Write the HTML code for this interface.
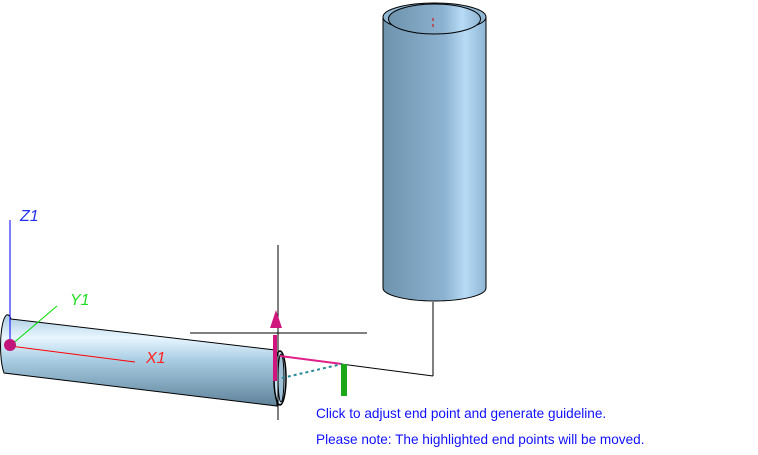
<!DOCTYPE html>
<html><head><style>
body{margin:0;background:#fff;width:758px;height:450px;overflow:hidden}
</style></head><body>
<svg width="758" height="450" xmlns="http://www.w3.org/2000/svg" font-family="Liberation Sans, sans-serif">
<defs>
<linearGradient id="vg" x1="0" x2="1" y1="0" y2="0">
<stop offset="0" stop-color="#6e93ad"/><stop offset="0.6" stop-color="#8db3d2"/>
<stop offset="0.8" stop-color="#b8dcf6"/><stop offset="1" stop-color="#8fb5d4"/>
</linearGradient>
<linearGradient id="hg" x1="0" x2="0" y1="0" y2="1">
<stop offset="0" stop-color="#a9cbe0"/><stop offset="0.25" stop-color="#e8f6ff"/>
<stop offset="0.5" stop-color="#a8cde3"/><stop offset="1" stop-color="#5f8299"/>
</linearGradient>
</defs>
<path d="M383,17 L383,288 A51.5,13 0 0 0 486,288 L486,17 Z" fill="url(#vg)" stroke="#000" stroke-width="1"/>
<ellipse cx="434.5" cy="17" rx="51.5" ry="14" fill="#8fb6d2" stroke="#000"/>
<ellipse cx="434.5" cy="19" rx="46" ry="15" fill="url(#vg)" stroke="#000"/>
<line x1="433" y1="18" x2="433" y2="30" stroke="#d00" stroke-dasharray="3,3"/>
<line x1="433" y1="302" x2="433" y2="376" stroke="#000"/>
<line x1="433" y1="376" x2="280" y2="356" stroke="#000"/>
<path d="M11,319 L275,350 L277,406 L4,373 A6,27 0 0 1 11,319 Z" fill="url(#hg)" stroke="#000"/>
<ellipse cx="280" cy="378" rx="6" ry="27" fill="#c8e2f2" stroke="#000" stroke-width="1.5"/>
<ellipse cx="281" cy="378" rx="3" ry="24" fill="#9fc2d8" stroke="#000"/>
<line x1="278" y1="245" x2="278" y2="420" stroke="#000"/>
<line x1="190" y1="333" x2="367" y2="333" stroke="#000"/>
<rect x="273" y="335" width="4" height="46" fill="#d0167e"/>
<polygon points="276,310 270,328 282,328" fill="#d0167e"/>
<line x1="280" y1="356" x2="342" y2="364" stroke="#e0208a" stroke-width="2"/>
<line x1="282" y1="378" x2="342" y2="364" stroke="#2a8a9a" stroke-width="2" stroke-dasharray="3,3"/>
<rect x="341" y="364" width="6" height="32" fill="#1aa81a"/>
<line x1="10" y1="220" x2="10" y2="342" stroke="#0000ff"/>
<line x1="10" y1="346" x2="135" y2="362" stroke="#ff0000"/>
<line x1="10" y1="346" x2="57" y2="306" stroke="#00dd00"/>
<circle cx="10" cy="345" r="6" fill="#c0157a"/>
<text x="20" y="221" fill="#2233ee" font-size="16" font-style="italic">Z1</text>
<text x="70" y="305" fill="#22dd22" font-size="16" font-style="italic">Y1</text>
<text x="146" y="363" fill="#ff2020" font-size="16" font-style="italic">X1</text>
<text x="316" y="418" fill="#1010ff" font-size="13.6">Click to adjust end point and generate guideline.</text>
<text x="316" y="444" fill="#1010ff" font-size="13.6">Please note: The highlighted end points will be moved.</text>
</svg>
</body></html>
